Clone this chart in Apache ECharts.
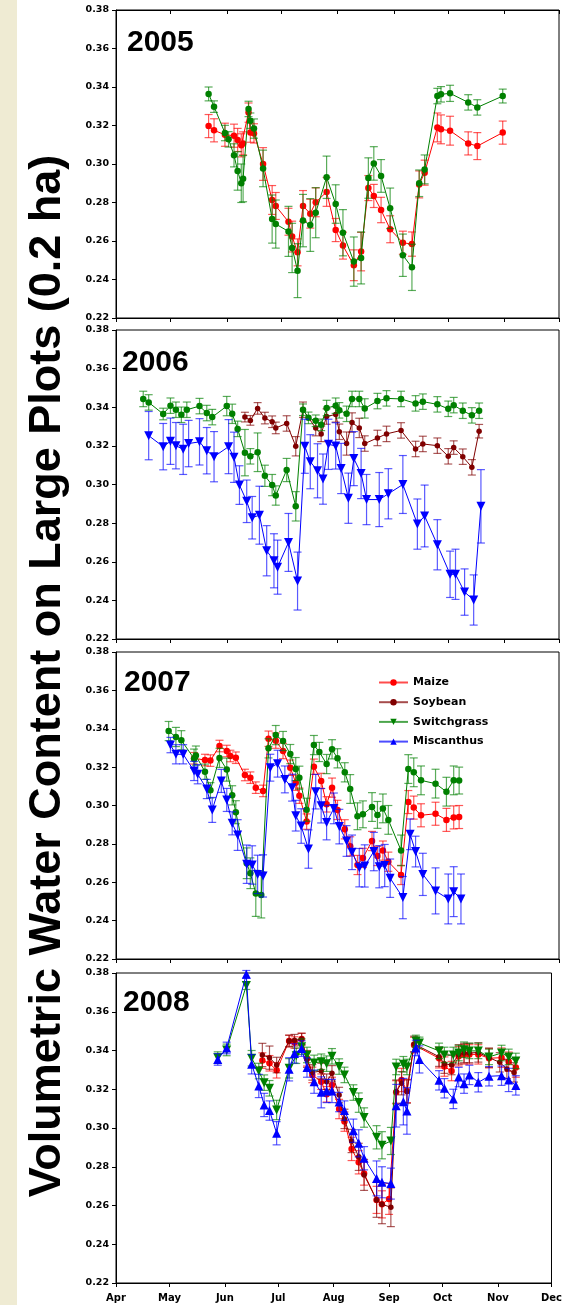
<!DOCTYPE html>
<html><head><meta charset="utf-8">
<script src="https://cdn.jsdelivr.net/npm/echarts@6/dist/echarts.min.js"></script>
<style>html,body{margin:0;padding:0;background:#fff}#c{width:565px;height:1305px}</style>
</head><body><div id="c"></div>
<script>
// x = days after April 1; entries are [day, mean, standard error]
const months = ['Apr','May','Jun','Jul','Aug','Sep','Oct','Nov','Dec'];
const monthStarts = [0,30,61,91,122,153,183,214,244];
const years = ['2005','2006','2007','2008'];

const maize2005 = [[51,.3197,.006],[54,.3175,.006],[60,.3152,.006],[65,.3147,.006],[67,.3125,.006],[69,.3097,.006],[70,.3107,.006],[73,.3267,.005],[74,.3163,.005],[76,.3159,.005],[81,.3000,.0085],[86,.2813,.0075],[88,.2782,.007],[95,.2700,.007],[97,.2623,.008],[100,.2541,.007],[103,.2782,.008],[107,.2742,.0075],[110,.2801,.0075],[116,.2855,.0075],[121,.2657,.006],[125,.2576,.007],[131,.2474,.008],[135,.2545,.01],[139,.2875,.0065],[142,.2834,.006],[146,.2761,.0066],[151,.2661,.007],[158,.2591,.006],[163,.2584,.0063],[167,.2894,.007],[170,.2955,.0065],[177,.3190,.0075],[179,.3180,.0075],[184,.3173,.0075],[194,.3107,.006],[199,.3093,.007],[213,.3163,.006]];
const switchgrass2005 = [[51,.3364,.0036],[54,.3298,.003],[60,.3161,.004],[62,.3128,.004],[65,.3045,.006],[67,.2964,.01],[69,.2900,.01],[70,.2924,.012],[73,.3286,.004],[74,.3225,.004],[76,.3184,.005],[81,.2977,.0095],[86,.2714,.0125],[88,.2688,.0125],[95,.2650,.013],[97,.2564,.0128],[100,.2446,.014],[103,.2706,.0136],[107,.2683,.0137],[110,.2747,.013],[116,.2931,.011],[121,.2792,.01],[125,.2643,.012],[131,.2493,.0128],[135,.2512,.0135],[139,.2927,.0105],[142,.3003,.0087],[146,.2938,.0085],[151,.2770,.0105],[158,.2526,.011],[163,.2463,.012],[167,.2900,.0069],[170,.2972,.0075],[177,.3353,.004],[179,.3362,.004],[184,.3367,.0042],[194,.3320,.004],[199,.3294,.004],[213,.3353,.0036]];

const switchgrass2006 = [[15,.3443,.004],[18,.3425,.004],[26,.3365,.003],[30,.3408,.004],[33,.3387,.004],[36,.3361,.004],[39,.3387,.004],[46,.3406,.004],[50,.3370,.004],[53,.3349,.004],[61,.3406,.005],[64,.3366,.005],[67,.3288,.004],[71,.3165,.012],[74,.3146,.004],[78,.3167,.01],[82,.3045,.0055],[86,.2997,.0055],[88,.2943,.005],[94,.3075,.006],[99,.2887,.0076],[103,.3387,.003],[106,.3345,.003],[110,.3330,.003],[113,.3309,.003],[116,.3396,.004],[121,.3408,.004],[123,.3384,.004],[127,.3366,.004],[130,.3443,.004],[134,.3443,.004],[137,.3394,.005],[144,.3432,.004],[149,.3446,.004],[157,.3443,.004],[165,.3420,.004],[169,.3429,.004],[177,.3415,.004],[183,.3392,.004],[186,.3411,.004],[191,.3382,.004],[196,.3358,.004],[200,.3382,.004]];
const soybean2006 = [[71,.3349,.0025],[74,.3332,.0025],[78,.3394,.003],[82,.3344,.003],[86,.3325,.003],[88,.3293,.003],[94,.3316,.004],[99,.3198,.005],[103,.3387,.004],[110,.3292,.004],[113,.3262,.004],[116,.3352,.004],[121,.3363,.004],[123,.3273,.004],[127,.3212,.006],[130,.3321,.005],[134,.3293,.005],[137,.3212,.004],[144,.3241,.004],[149,.3262,.004],[157,.3280,.004],[165,.3184,.004],[169,.3210,.004],[177,.3201,.004],[183,.3146,.004],[186,.3191,.0035],[191,.3144,.004],[196,.3089,.004],[200,.3276,.0035]];
const miscanthus2006 = [[18,.3253,.0125],[26,.3196,.012],[30,.3224,.012],[33,.3201,.012],[37,.3182,.013],[40,.3212,.012],[46,.3221,.012],[50,.3175,.012],[54,.3144,.013],[62,.3196,.014],[65,.3141,.013],[68,.2997,.01],[72,.2913,.011],[75,.2828,.011],[79,.2841,.015],[83,.2657,.013],[87,.2605,.014],[89,.2572,.014],[95,.2700,.015],[100,.2500,.015],[104,.3198,.014],[107,.3118,.014],[111,.3071,.014],[114,.3028,.013],[117,.3208,.013],[121,.3200,.012],[124,.3083,.013],[128,.2929,.013],[131,.3134,.014],[135,.3057,.013],[138,.2922,.013],[145,.2922,.014],[150,.2952,.013],[158,.3000,.015],[166,.2795,.013],[170,.2837,.016],[177,.2688,.013],[184,.2535,.012],[187,.2535,.013],[192,.2443,.012],[197,.2402,.013],[201,.2887,.019]];

const maize2007 = [[43,.3246,.003],[49,.3237,.003],[52,.3234,.003],[57,.3310,.003],[61,.3284,.003],[63,.3258,.003],[66,.3249,.003],[71,.3159,.003],[74,.3145,.003],[77,.3093,.003],[81,.3076,.003],[84,.3348,.004],[88,.3338,.004],[92,.3284,.004],[96,.3197,.004],[99,.3119,.004],[101,.3051,.004],[105,.2916,.004],[109,.3202,.004],[113,.3128,.004],[116,.3006,.004],[119,.3093,.005],[122,.2977,.005],[126,.2876,.005],[129,.2787,.005],[133,.2690,.005],[136,.2727,.005],[141,.2815,.005],[144,.2737,.005],[147,.2765,.005],[150,.2707,.005],[157,.2638,.005],[161,.3018,.006],[164,.2989,.006],[168,.2949,.006],[176,.2957,.006],[182,.2925,.006],[186,.2938,.006],[189,.2940,.006]];
const switchgrass2007 = [[29,.3388,.005],[33,.3357,.005],[36,.3340,.005],[43,.3244,.005],[44,.3260,.005],[49,.3176,.004],[52,.3079,.004],[57,.3248,.005],[61,.3187,.006],[64,.3053,.005],[66,.2965,.006],[72,.2699,.008],[74,.2647,.008],[77,.2542,.012],[80,.2534,.012],[84,.3298,.005],[88,.3367,.005],[92,.3336,.005],[96,.3268,.005],[99,.3190,.006],[101,.3145,.006],[105,.2978,.006],[109,.3315,.005],[112,.3279,.005],[116,.3216,.005],[119,.3293,.005],[122,.3246,.005],[126,.3173,.005],[129,.3086,.0075],[133,.2944,.007],[136,.2954,.007],[141,.2992,.0075],[144,.2951,.007],[147,.2985,.0075],[150,.2925,.0075],[157,.2766,.008],[161,.3190,.0075],[164,.3173,.0075],[168,.3131,.0075],[176,.3114,.0075],[182,.3072,.0075],[186,.3131,.0075],[189,.3130,.007]];
const miscanthus2007 = [[30,.3315,.004],[33,.3267,.005],[37,.3267,.005],[43,.3180,.005],[45,.3163,.005],[50,.3086,.005],[53,.2977,.0065],[58,.3128,.006],[61,.3029,.006],[64,.2907,.006],[67,.2846,.008],[72,.2694,.01],[75,.2690,.01],[78,.2641,.01],[81,.2633,.011],[85,.3197,.007],[89,.3218,.007],[93,.3136,.007],[97,.3093,.007],[99,.2947,.008],[102,.2893,.009],[106,.2773,.01],[110,.3072,.009],[113,.2999,.009],[116,.2911,.009],[120,.2985,.008],[123,.2890,.009],[127,.2815,.008],[130,.2756,.009],[134,.2676,.01],[137,.2685,.011],[142,.2760,.01],[145,.2681,.011],[148,.2687,.011],[151,.2621,.01],[158,.2520,.011],[162,.2850,.008],[165,.2760,.008],[169,.2641,.011],[176,.2555,.012],[183,.2513,.013],[186,.2551,.013],[190,.2513,.013]];

const maize2008 = [[82,.3348,.004],[86,.3334,.004],[90,.3298,.004],[97,.3449,.003],[100,.3441,.003],[104,.3459,.003],[107,.3360,.004],[110,.3274,.004],[115,.3239,.004],[118,.3174,.004],[121,.3222,.004],[125,.3098,.005],[128,.3033,.005],[132,.2892,.006],[136,.2823,.006],[139,.2765,.006],[146,.2629,.007],[149,.2606,.007],[153,.2634,.008],[157,.3184,.006],[160,.3248,.006],[163,.3191,.006],[167,.3428,.004],[181,.3360,.005],[184,.3317,.005],[188,.3294,.005],[192,.3370,.005],[195,.3380,.005],[198,.3380,.005],[203,.3380,.005],[209,.3360,.005],[216,.3363,.005],[220,.3342,.005],[224,.3312,.005]];
const soybean2008 = [[82,.3377,.006],[86,.3363,.006],[90,.3325,.004],[97,.3449,.003],[100,.3453,.003],[104,.3459,.003],[107,.3353,.004],[110,.3287,.004],[115,.3294,.004],[118,.3239,.004],[121,.3282,.004],[125,.3170,.004],[128,.3047,.005],[132,.2933,.006],[136,.2851,.007],[139,.2758,.008],[146,.2629,.009],[149,.2606,.01],[154,.2591,.01],[157,.3188,.006],[160,.3231,.006],[163,.3188,.006],[167,.3434,.004],[181,.3368,.005],[184,.3332,.005],[188,.3325,.005],[192,.3380,.005],[195,.3387,.005],[198,.3387,.005],[203,.3390,.005],[209,.3363,.005],[215,.3339,.005],[219,.3305,.005],[223,.3287,.005]];
const switchgrass2008 = [[57,.3363,.003],[62,.3403,.003],[73,.3735,.002],[76,.3360,.004],[80,.3294,.004],[83,.3234,.004],[86,.3205,.004],[90,.3093,.005],[97,.3308,.005],[101,.3373,.004],[104,.3420,.004],[107,.3377,.004],[111,.3336,.004],[115,.3342,.004],[118,.3332,.004],[121,.3370,.004],[125,.3317,.004],[128,.3274,.004],[133,.3183,.004],[136,.3131,.005],[139,.3054,.005],[146,.2952,.006],[149,.2911,.007],[154,.2933,.007],[157,.3315,.004],[161,.3329,.004],[163,.3315,.004],[168,.3449,.003],[170,.3439,.003],[181,.3398,.004],[184,.3377,.004],[189,.3377,.004],[192,.3387,.004],[195,.3404,.004],[198,.3398,.004],[203,.3398,.004],[209,.3367,.004],[216,.3387,.004],[220,.3367,.004],[224,.3346,.004]];
const miscanthus2008 = [[57,.3354,.003],[62,.3413,.003],[73,.3793,.002],[76,.3329,.005],[80,.3217,.006],[83,.3119,.006],[86,.3090,.005],[90,.2973,.006],[97,.3303,.006],[100,.3385,.005],[104,.3410,.004],[107,.3312,.005],[111,.3239,.006],[115,.3184,.008],[118,.3191,.006],[121,.3191,.006],[125,.3134,.005],[128,.3090,.005],[133,.2986,.006],[136,.2921,.007],[139,.2844,.006],[146,.2740,.009],[149,.2720,.008],[154,.2713,.008],[157,.3115,.011],[161,.3136,.012],[163,.3088,.012],[168,.3413,.004],[170,.3354,.007],[181,.3246,.005],[184,.3205,.005],[189,.3150,.005],[192,.3263,.005],[195,.3229,.005],[198,.3274,.005],[203,.3236,.005],[209,.3267,.005],[216,.3270,.005],[220,.3248,.006],[224,.3220,.005]];

// ---- styles ----
const STY = {
  Maize:       {color:'#FF0000', symbol:'circle', size:6.5, rot:0},
  Soybean:     {color:'#800000', symbol:'circle', size:5.5, rot:0},
  Switchgrass: {color:'#008000', symbol:'circle', size:6.5, rot:0},
  SwitchTri:   {color:'#008000', symbol:'triangle', size:9, rot:180},
  MiscDown:    {color:'#0000FF', symbol:'triangle', size:9, rot:180},
  MiscUp:      {color:'#0000FF', symbol:'triangle', size:9, rot:0}
};
const panels = [
  {top:10,  height:308, label:{x:127,y:43},  series:[['Maize',maize2005,'Maize'],['Switchgrass',switchgrass2005,'Switchgrass']]},
  {top:330, height:309, label:{x:122,y:363}, series:[['Soybean',soybean2006,'Soybean'],['Switchgrass',switchgrass2006,'Switchgrass'],['Miscanthus',miscanthus2006,'MiscDown']]},
  {top:652, height:307, label:{x:124,y:683}, series:[['Maize',maize2007,'Maize'],['Switchgrass',switchgrass2007,'Switchgrass'],['Miscanthus',miscanthus2007,'MiscDown']]},
  {top:973, height:310, label:{x:123,y:1003},series:[['Maize',maize2008,'Maize'],['Soybean',soybean2008,'Soybean'],['Switchgrass',switchgrass2008,'SwitchTri'],['Miscanthus',miscanthus2008,'MiscUp']]}
];
const TICKFONT = {fontFamily:'DejaVu Sans', fontWeight:'bold', fontSize:9.5, color:'#000'};

const grid=[], xAxis=[], yAxis=[], series=[], graphic=[];
graphic.push({type:'rect', shape:{x:0,y:0,width:17,height:1305}, style:{fill:'#EFEBD3'}, z:-1});
graphic.push({type:'text', x:48, y:676, rotation:Math.PI/2,
  style:{text:'Volumetric Water Content on Large Plots (0.2 ha)', font:'bold 45px "Liberation Sans", Arial, sans-serif', fill:'#000', textAlign:'center', textVerticalAlign:'middle', align:'center', verticalAlign:'middle'}});

panels.forEach((p,i)=>{
  grid.push({left:116, right:6, top:p.top, height:p.height, show:true, borderColor:'#000', borderWidth:1, backgroundColor:'transparent'});
  xAxis.push({gridIndex:i, type:'value', min:0, max:244,
    axisLine:{show:true, lineStyle:{color:'#000', width:1}},
    axisTick:{show:true, customValues:monthStarts, length:4, lineStyle:{color:'#000'}},
    axisLabel:{show:i===3, customValues:monthStarts, formatter:v=>months[monthStarts.indexOf(v)], margin:10, ...TICKFONT, fontSize:10},
    splitLine:{show:false}});
  yAxis.push({gridIndex:i, type:'value', min:0.22, max:0.38, interval:0.02,
    axisLine:{show:true, lineStyle:{color:'#000', width:1}},
    axisTick:{show:true, length:4, lineStyle:{color:'#000'}},
    axisLabel:{formatter:v=>v.toFixed(2), margin:7, showMinLabel:true, showMaxLabel:true, ...TICKFONT},
    splitLine:{show:false}});
  graphic.push({type:'text', x:p.label.x, y:p.label.y,
    style:{text:years[i], font:'bold 30px "Liberation Sans", Arial, sans-serif', fill:'#000', textAlign:'left', textVerticalAlign:'middle', align:'left', verticalAlign:'middle'}});
  p.series.forEach((s,k)=>{
    const [name,data,styKey] = s; const st = STY[styKey];
    series.push({type:'custom', name:name+' '+years[i]+' SE', xAxisIndex:i, yAxisIndex:i, silent:true, z:2+2*k,
      data:data.map(d=>[d[0], d[1]-d[2], d[1]+d[2]]), encode:{x:0, y:[1,2]},
      renderItem:(params,api)=>{
        const x=api.value(0); const a=api.coord([x,api.value(1)]); const b=api.coord([x,api.value(2)]);
        const w=4, sty={stroke:st.color, lineWidth:1.2, opacity:0.65};
        return {type:'group', children:[
          {type:'line', shape:{x1:a[0],y1:a[1],x2:b[0],y2:b[1]}, style:sty},
          {type:'line', shape:{x1:a[0]-w,y1:a[1],x2:a[0]+w,y2:a[1]}, style:sty},
          {type:'line', shape:{x1:b[0]-w,y1:b[1],x2:b[0]+w,y2:b[1]}, style:sty}]};
      }});
    series.push({type:'line', name:name+' '+years[i], xAxisIndex:i, yAxisIndex:i, z:3+2*k,
      data:data.map(d=>[d[0],d[1]]), symbol:st.symbol, symbolSize:st.size, symbolRotate:st.rot,
      showAllSymbol:true, lineStyle:{color:st.color, width:1}, itemStyle:{color:st.color}});
  });
});
// top ticks on first panel
xAxis.push({gridIndex:0, type:'value', position:'top', min:0, max:244,
  axisLine:{show:true, lineStyle:{color:'#000'}},
  axisTick:{show:true, inside:true, customValues:monthStarts, length:4, lineStyle:{color:'#000'}},
  axisLabel:{show:false}, splitLine:{show:false}});

// legend entries (drawn in 2007 panel)
const legendItems = [['Maize','Maize'],['Soybean','Soybean'],['Switchgrass','SwitchTri'],['Miscanthus','MiscUp']];
legendItems.forEach(([n,k])=>{
  const st=STY[k];
  series.push({type:'line', name:n, xAxisIndex:2, yAxisIndex:2, data:[], symbol:st.symbol, symbolRotate:st.rot, symbolSize:st.size,
    lineStyle:{color:st.color, width:2, opacity:0.7}, itemStyle:{color:st.color}});
});

const chart = echarts.init(document.getElementById('c'), null, {renderer:'canvas'});
chart.setOption({
  animation:false, backgroundColor:'#fff',
  grid, xAxis, yAxis, series, graphic,
  legend:{data:legendItems.map(d=>d[0]), orient:'vertical', left:378, top:677, padding:0, itemWidth:29, itemHeight:8, itemGap:8.7,
    selectedMode:false, textStyle:{fontFamily:'DejaVu Sans', fontWeight:'bold', fontSize:11, color:'#000'}}
});
</script></body></html>
